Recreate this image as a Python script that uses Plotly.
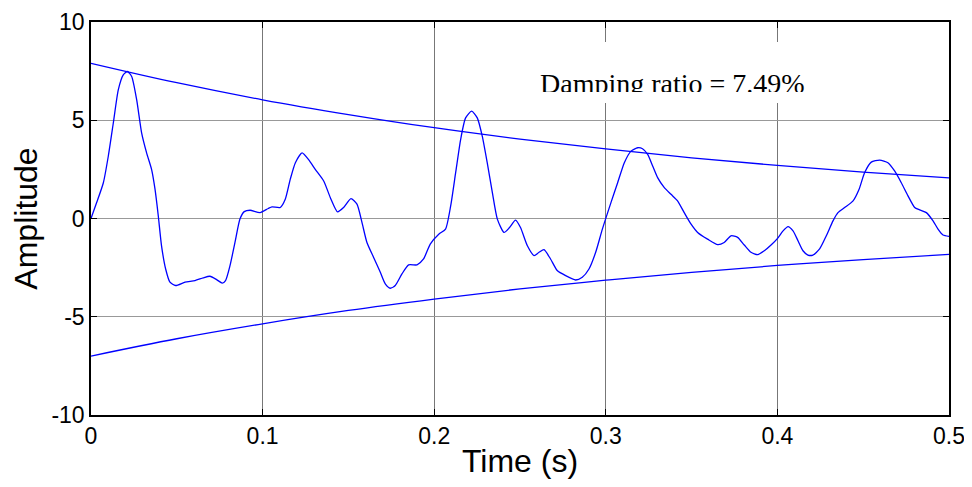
import plotly.graph_objects as go

# Measured signal (time in s, amplitude)
time_s = [0.0, 0.0033, 0.0072, 0.0101, 0.013, 0.0159, 0.0188, 0.0212, 0.0237, 0.0266,
          0.0295, 0.0324, 0.0353, 0.0373, 0.0392, 0.0411, 0.0435, 0.046, 0.0493, 0.0548,
          0.0606, 0.0654, 0.0693, 0.0732, 0.0765, 0.0784, 0.081, 0.0839, 0.0868, 0.0893,
          0.0927, 0.0985, 0.1033, 0.1055, 0.1103, 0.1132, 0.1161, 0.1191, 0.123, 0.1268,
          0.1307, 0.1356, 0.1395, 0.1437, 0.1472, 0.1515, 0.155, 0.1579, 0.1608, 0.1647,
          0.1686, 0.1715, 0.1744, 0.1773, 0.1812, 0.1851, 0.19, 0.1938, 0.1977, 0.2028,
          0.2066, 0.2096, 0.2125, 0.2154, 0.2183, 0.2218, 0.2251, 0.228, 0.2309, 0.2339,
          0.2368, 0.2407, 0.2439, 0.2474, 0.2503, 0.2543, 0.2582, 0.2611, 0.264, 0.2678,
          0.2717, 0.2766, 0.2824, 0.2863, 0.2902, 0.2941, 0.298, 0.303, 0.3069, 0.3108,
          0.3147, 0.3186, 0.3214, 0.3244, 0.3273, 0.3302, 0.3341, 0.338, 0.3418, 0.3457,
          0.3497, 0.3535, 0.3593, 0.3652, 0.369, 0.373, 0.3768, 0.3807, 0.3846, 0.3885,
          0.3924, 0.3963, 0.4001, 0.4033, 0.4062, 0.4091, 0.412, 0.4149, 0.4178, 0.4207,
          0.4246, 0.4285, 0.4324, 0.4353, 0.4392, 0.4441, 0.4476, 0.4508, 0.4547, 0.4596,
          0.4644, 0.4683, 0.4722, 0.4761, 0.48, 0.4829, 0.4868, 0.4907, 0.4936, 0.4965,
          0.5]
amplitude = [0.0, 0.81, 1.82, 3.18, 4.86, 6.55, 7.31, 7.48, 7.23, 6.05,
             4.36, 3.34, 2.5, 1.49, 0.14, -1.39, -2.57, -3.24, -3.41, -3.24,
             -3.16, -3.02, -2.94, -3.11, -3.29, -3.16, -2.4, -1.22, -0.03, 0.35,
             0.42, 0.3, 0.51, 0.59, 0.56, 0.98, 1.99, 2.84, 3.34, 3.0,
             2.5, 1.91, 1.06, 0.34, 0.56, 1.01, 0.73, -0.2, -1.22, -1.98,
             -2.74, -3.33, -3.55, -3.41, -2.82, -2.36, -2.36, -2.06, -1.3, -0.79,
             -0.54, 0.64, 2.33, 4.02, 5.12, 5.46, 5.12, 4.19, 2.84, 1.32,
             -0.03, -0.71, -0.46, -0.08, -0.46, -1.39, -1.89, -1.72, -1.59, -2.06,
             -2.65, -2.91, -3.13, -2.99, -2.57, -1.72, -0.54, 0.81, 1.82, 2.84,
             3.43, 3.6, 3.55, 3.26, 2.67, 2.08, 1.57, 1.23, 0.9, 0.3,
             -0.29, -0.71, -1.05, -1.33, -1.22, -0.88, -0.96, -1.35, -1.72, -1.84,
             -1.64, -1.35, -1.01, -0.63, -0.41, -0.63, -1.13, -1.64, -1.86, -1.86,
             -1.55, -0.88, -0.12, 0.3, 0.56, 0.9, 1.49, 2.33, 2.87, 2.97,
             2.84, 2.42, 1.82, 1.15, 0.56, 0.44, 0.3, -0.12, -0.54, -0.84,
             -0.91]

# Envelope curves
env_time = [0.0, 0.05, 0.1, 0.15, 0.2, 0.25, 0.3, 0.35, 0.4, 0.45, 0.5]
env_upper = [7.9, 6.91, 6.04, 5.29, 4.62, 4.04, 3.54, 3.09, 2.70, 2.36, 2.07]
env_lower = [-7.0, -6.12, -5.36, -4.68, -4.10, -3.58, -3.14, -2.74, -2.39, -2.09, -1.83]

x_ticks = [0, 0.1, 0.2, 0.3, 0.4, 0.5]
x_tick_labels = ["0", "0.1", "0.2", "0.3", "0.4", "0.5"]
y_ticks = [-10, -5, 0, 5, 10]
y_tick_labels = ["-10", "-5", "0", "5", "10"]

label_text = "Damping ratio = 7.49%"

blue = "#0000ff"
fig = go.Figure()
fig.add_trace(go.Scatter(x=time_s, y=amplitude, mode="lines",
                         line=dict(color=blue, width=1.3, shape="spline", smoothing=0.6)))
fig.add_trace(go.Scatter(x=env_time, y=env_upper, mode="lines",
                         line=dict(color=blue, width=1.3, shape="spline")))
fig.add_trace(go.Scatter(x=env_time, y=env_lower, mode="lines",
                         line=dict(color=blue, width=1.3, shape="spline")))

# page has an 8px body margin -> figure coordinates = page - 8
OFF = 8
W, H = 964, 479
L, T = 91 - OFF, 22 - OFF
R = W - (949 - OFF)
B = H - (415 - OFF)
pw, ph = W - L - R, H - T - B

def px_x(p):  # page pixel -> paper x
    return (p - OFF - L) / pw

def px_y(p):  # page pixel -> paper y
    return (H - B - (p - OFF)) / ph

# white background box of the text (hides grid lines)
fig.add_shape(type="rect", xref="paper", yref="paper",
              x0=px_x(528), x1=px_x(818), y0=px_y(103), y1=px_y(42),
              fillcolor="white", line=dict(width=0), layer="above")

fig.add_annotation(text=label_text, xref="paper", yref="paper",
                   x=px_x(672.5), y=px_y(100), xanchor="center", yanchor="bottom",
                   showarrow=False, borderpad=0,
                   font=dict(family="Liberation Serif, Times New Roman, serif", size=28, color="black"))
# clip the descenders like the original
fig.add_annotation(text=" ", xref="paper", yref="paper",
                   x=px_x(528), y=px_y(92), xanchor="left", yanchor="top",
                   width=290, height=11, bgcolor="white", borderpad=0, borderwidth=0,
                   showarrow=False, font=dict(size=6))

axis_font = dict(family="Arial, Liberation Sans, sans-serif", size=23, color="black")
title_font = dict(family="Arial, Liberation Sans, sans-serif", size=32, color="black")
fig.update_layout(
    width=W, height=H,
    margin=dict(l=L, r=R, t=T, b=B, pad=0, autoexpand=False),
    paper_bgcolor="white", plot_bgcolor="white",
    showlegend=False,
    xaxis=dict(range=[0, 0.5], tickvals=x_ticks, ticktext=x_tick_labels,
               ticks="inside", ticklen=6, tickwidth=1, tickcolor="black",
               showline=True, linecolor="black", linewidth=1.5, mirror="ticks",
               showgrid=True, gridcolor="#777777", gridwidth=1, zeroline=False,
               tickfont=axis_font, automargin=False, ticklabeloverflow="allow",
               title=dict(text="Time (s)", font=title_font, standoff=1)),
    yaxis=dict(range=[-10, 10], tickvals=y_ticks, ticktext=y_tick_labels,
               ticks="inside", ticklen=6, tickwidth=1, tickcolor="black",
               showline=True, linecolor="black", linewidth=1.5, mirror="ticks",
               showgrid=True, gridcolor="#999999", gridwidth=1, zeroline=False,
               tickfont=axis_font, automargin=False, ticklabeloverflow="allow",
               title=dict(text="Amplitude", font=title_font, standoff=7)),
)

fig.write_html("out.html")
